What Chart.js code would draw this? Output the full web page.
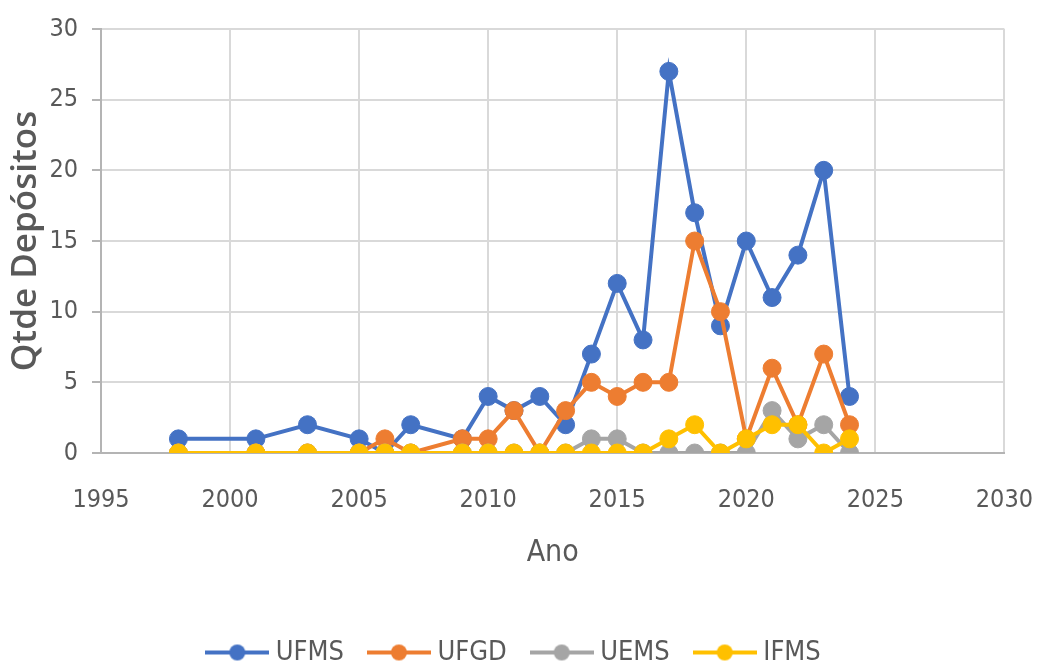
<!DOCTYPE html>
<html><head><meta charset="utf-8">
<script src="https://cdn.jsdelivr.net/npm/chart.js@4.4.0/dist/chart.umd.min.js"></script>
<style>html,body{margin:0;padding:0;background:#fff;} #wrap{width:1037px;height:664px;position:relative;}</style>
</head><body><div id="wrap"><canvas id="c"></canvas></div>
<script>
const seriesNames = ['UFMS', 'UFGD', 'UEMS', 'IFMS'];
const years = [1998, 2001, 2003, 2005, 2006, 2007, 2009, 2010, 2011, 2012, 2013, 2014, 2015, 2016, 2017, 2018, 2019, 2020, 2021, 2022, 2023, 2024];
const ufms = [1, 1, 2, 1, 0, 2, 1, 4, 3, 4, 2, 7, 12, 8, 27, 17, 9, 15, 11, 14, 20, 4];
const ufgd = [0, 0, 0, 0, 1, 0, 1, 1, 3, 0, 3, 5, 4, 5, 5, 15, 10, 1, 6, 2, 7, 2];
const uems = [0, 0, 0, 0, 0, 0, 0, 0, 0, 0, 0, 1, 1, 0, 0, 0, 0, 0, 3, 1, 2, 0];
const ifms = [0, 0, 0, 0, 0, 0, 0, 0, 0, 0, 0, 0, 0, 0, 1, 2, 0, 1, 2, 2, 0, 1];
const xTickValues = [1995, 2000, 2005, 2010, 2015, 2020, 2025, 2030];
const yTickValues = [0, 5, 10, 15, 20, 25, 30];
const xTitle = 'Ano';
const yTitle = 'Qtde Depósitos';

const colors = ['#4472C4', '#ED7D31', '#A5A5A5', '#FFC000'];
const seriesValues = [ufms, ufgd, uems, ifms];
const FONT = "'Liberation Sans Narrow', 'DejaVu Sans Condensed', 'Open Sans', sans-serif";
const TXT = '#595959';

function legendIcon(color) {
  const c = document.createElement('canvas');
  c.width = 64; c.height = 20;
  const g = c.getContext('2d');
  g.strokeStyle = color; g.lineWidth = 4;
  g.beginPath(); g.moveTo(0, 10); g.lineTo(64, 10); g.stroke();
  g.fillStyle = color;
  g.beginPath(); g.arc(32, 10, 8, 0, Math.PI * 2); g.fill();
  return c;
}
const icons = colors.map(legendIcon);

const datasets = seriesNames.map((name, i) => ({
  label: name,
  data: years.map((yr, k) => ({ x: yr, y: seriesValues[i][k] })),
  borderColor: colors[i],
  backgroundColor: colors[i],
  borderWidth: 4,
  pointRadius: 9,
  pointHoverRadius: 9,
  pointBorderWidth: 1,
  pointBorderColor: colors[i],
  tension: 0,
  order: seriesNames.length - i
}));

new Chart(document.getElementById('c'), {
  type: 'line',
  data: { datasets },
  options: {
    responsive: true,
    maintainAspectRatio: false,
    animation: false,
    layout: { padding: { left: 0, right: 4, top: 25, bottom: -12 } },
    plugins: {
      tooltip: { enabled: false },
      legend: {
        position: 'bottom',
        labels: {
          font: { family: FONT, size: 27 },
          color: TXT,
          usePointStyle: true,
          pointStyleWidth: 50,
          padding: 30,
          generateLabels: (chart) => chart.data.datasets.map((ds, i) => ({
            text: ds.label,
            pointStyle: icons[i],
            fillStyle: colors[i],
            strokeStyle: colors[i],
            lineWidth: 0,
            fontColor: TXT,
            datasetIndex: i,
            hidden: false
          }))
        }
      }
    },
    scales: {
      x: {
        type: 'linear',
        min: 1995, max: 2030,
        afterBuildTicks: (s) => { s.ticks = xTickValues.map(v => ({ value: v })); },
        afterFit: (s) => { s.height = 156; },
        ticks: {
          font: { family: FONT, size: 25 },
          color: TXT,
          padding: 4,
          maxRotation: 0,
          callback: (v) => String(v)
        },
        grid: { color: '#d9d9d9', lineWidth: 2, drawTicks: true, tickLength: 28, tickColor: 'rgba(0,0,0,0)' },
        border: { color: '#b4b4b4', width: 2 },
        title: {
          display: true, text: xTitle, color: TXT,
          font: { family: FONT, size: 30 },
          padding: { top: 0, bottom: 38 }
        }
      },
      y: {
        type: 'linear',
        min: 0, max: 30,
        afterBuildTicks: (s) => { s.ticks = yTickValues.map(v => ({ value: v })); },
        afterFit: (s) => { s.width = 101; },
        ticks: {
          font: { family: FONT, size: 25 },
          color: TXT,
          padding: 14
        },
        grid: { color: '#d9d9d9', lineWidth: 2, tickLength: 9, tickColor: '#b4b4b4' },
        border: { color: '#b4b4b4', width: 2 },
        title: {
          display: true, text: yTitle, color: TXT,
          font: { family: "'Open Sans', sans-serif", size: 35, weight: '600' },
          padding: { top: 5, bottom: 0 }
        }
      }
    }
  }
});
</script></body></html>
